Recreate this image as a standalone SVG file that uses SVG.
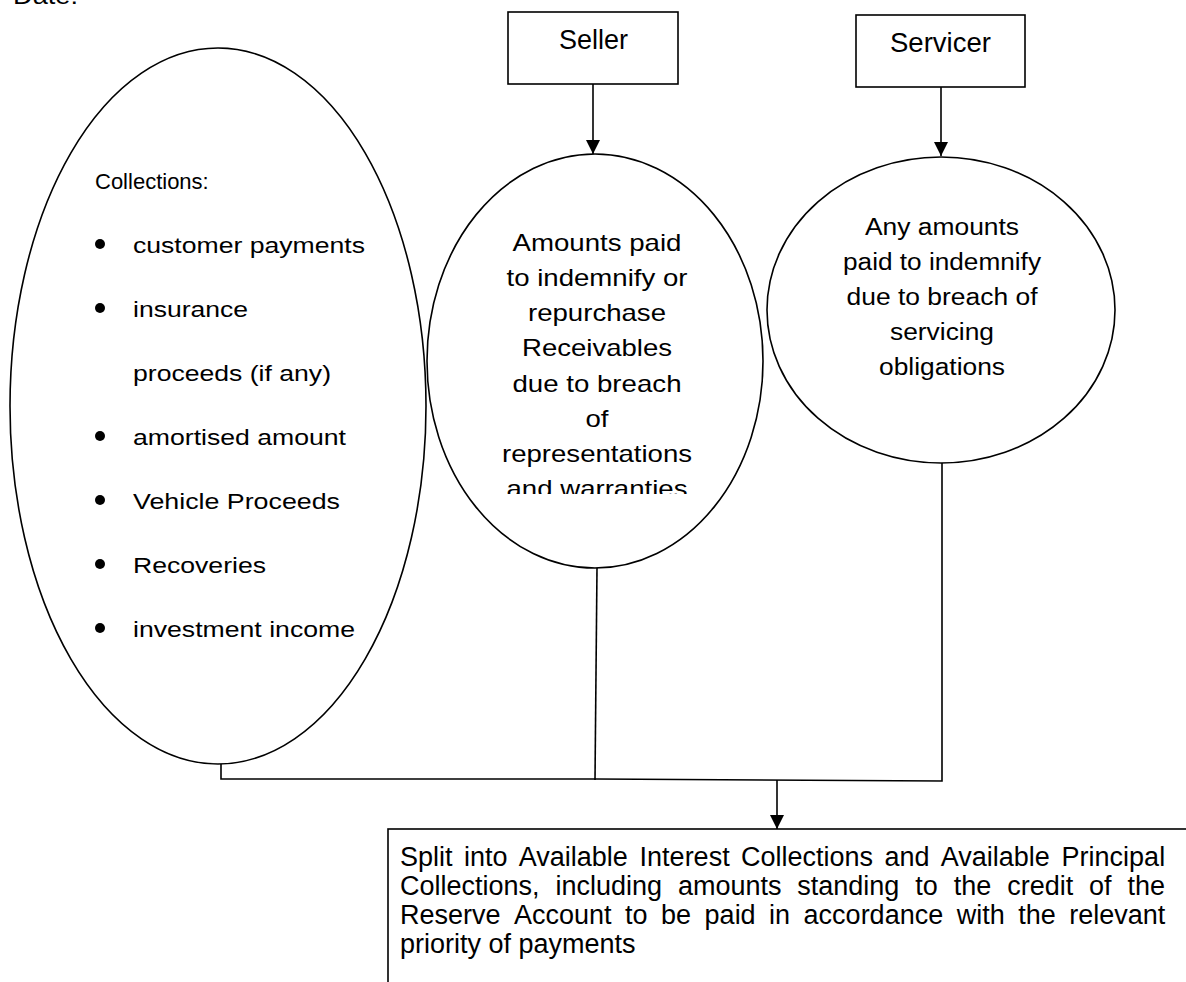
<svg xmlns="http://www.w3.org/2000/svg" width="1186" height="982" viewBox="0 0 1186 982">
<defs>
<marker id="ah" markerWidth="14" markerHeight="15" refX="14" refY="7" orient="auto" markerUnits="userSpaceOnUse">
<path d="M0,0 L14,7 L0,14 Z" fill="#000"/>
</marker>
<clipPath id="midclip"><rect x="420" y="150" width="350" height="344"/></clipPath>
</defs>
<style>
.t{font-family:"Liberation Sans",Arial,sans-serif;fill:#000}
.box{font-size:27.5px}
.li{font-size:22px}
.mid{font-size:24px}
.rt{font-size:23.5px}
.bt{font-size:27px}
.shape{fill:none;stroke:#000;stroke-width:1.6}
.line{fill:none;stroke:#000;stroke-width:1.6}
</style>
<rect width="1186" height="982" fill="#fff"/>
<text class="t mid" x="13" y="4" textLength="65" lengthAdjust="spacingAndGlyphs">Date:</text>

<g id="connectors">
<line class="line" x1="593" y1="84" x2="593" y2="154" marker-end="url(#ah)"/>
<line class="line" x1="941" y1="87" x2="941" y2="156" marker-end="url(#ah)"/>
<polyline class="line" points="221,764 221,779 596,779 942,781 942,463"/>
<line class="line" x1="597" y1="568" x2="595" y2="780"/>
<line class="line" x1="777" y1="780" x2="777" y2="829" marker-end="url(#ah)"/>
</g>

<g id="seller">
<rect class="shape" x="508" y="12" width="170" height="72"/>
<text class="t box" x="559" y="49" textLength="69" lengthAdjust="spacingAndGlyphs">Seller</text>
</g>

<g id="servicer">
<rect class="shape" x="856" y="15" width="169" height="72"/>
<text class="t box" x="890" y="52" textLength="101" lengthAdjust="spacingAndGlyphs">Servicer</text>
</g>

<g id="collections">
<ellipse class="shape" cx="218" cy="406" rx="208" ry="358"/>
<text class="t li" x="95" y="189">Collections:</text>
<g fill="#000">
<circle cx="100" cy="244" r="5"/>
<circle cx="100" cy="308" r="5"/>
<circle cx="100" cy="436" r="5"/>
<circle cx="100" cy="500" r="5"/>
<circle cx="100" cy="564" r="5"/>
<circle cx="100" cy="628" r="5"/>
</g>
<text class="t li" x="133" y="253" textLength="232" lengthAdjust="spacingAndGlyphs">customer payments</text>
<text class="t li" x="133" y="317" textLength="115" lengthAdjust="spacingAndGlyphs">insurance</text>
<text class="t li" x="133" y="381" textLength="198" lengthAdjust="spacingAndGlyphs">proceeds (if any)</text>
<text class="t li" x="133" y="445" textLength="213" lengthAdjust="spacingAndGlyphs">amortised amount</text>
<text class="t li" x="133" y="509" textLength="207" lengthAdjust="spacingAndGlyphs">Vehicle Proceeds</text>
<text class="t li" x="133" y="573" textLength="133" lengthAdjust="spacingAndGlyphs">Recoveries</text>
<text class="t li" x="133" y="637" textLength="222" lengthAdjust="spacingAndGlyphs">investment income</text>
</g>

<g id="seller-amounts">
<ellipse class="shape" cx="595" cy="361" rx="168" ry="207"/>
<g clip-path="url(#midclip)">
<text class="t mid" x="512.5" y="251" textLength="169" lengthAdjust="spacingAndGlyphs">Amounts paid</text>
<text class="t mid" x="506.5" y="286" textLength="181" lengthAdjust="spacingAndGlyphs">to indemnify or</text>
<text class="t mid" x="528" y="321" textLength="138" lengthAdjust="spacingAndGlyphs">repurchase</text>
<text class="t mid" x="522" y="356" textLength="150" lengthAdjust="spacingAndGlyphs">Receivables</text>
<text class="t mid" x="512.5" y="392" textLength="169" lengthAdjust="spacingAndGlyphs">due to breach</text>
<text class="t mid" x="585.5" y="427" textLength="23" lengthAdjust="spacingAndGlyphs">of</text>
<text class="t mid" x="502" y="462" textLength="190" lengthAdjust="spacingAndGlyphs">representations</text>
<text class="t mid" x="506.5" y="497" textLength="181" lengthAdjust="spacingAndGlyphs">and warranties</text>
</g>
</g>

<g id="servicer-amounts">
<ellipse class="shape" cx="941" cy="310" rx="174" ry="153"/>
<text class="t rt" x="865" y="235" textLength="154" lengthAdjust="spacingAndGlyphs">Any amounts</text>
<text class="t rt" x="843" y="270" textLength="198" lengthAdjust="spacingAndGlyphs">paid to indemnify</text>
<text class="t rt" x="846.5" y="305" textLength="191" lengthAdjust="spacingAndGlyphs">due to breach of</text>
<text class="t rt" x="890" y="340" textLength="104" lengthAdjust="spacingAndGlyphs">servicing</text>
<text class="t rt" x="879" y="375" textLength="126" lengthAdjust="spacingAndGlyphs">obligations</text>
</g>

<g id="split">
<rect class="shape" x="388" y="829" width="900" height="300"/>
<text class="t bt" y="866"><tspan x="400">Split</tspan><tspan x="463.9">into</tspan><tspan x="518.8">Available</tspan><tspan x="639.6">Interest</tspan><tspan x="741">Collections</tspan><tspan x="884.4">and</tspan><tspan x="940.7">Available</tspan><tspan x="1061.6">Principal</tspan></text>
<text class="t bt" y="895"><tspan x="400">Collections,</tspan><tspan x="555.4">including</tspan><tspan x="677.9">amounts</tspan><tspan x="797.3">standing</tspan><tspan x="915.3">to</tspan><tspan x="953.8">the</tspan><tspan x="1007.2">credit</tspan><tspan x="1089.1">of</tspan><tspan x="1127.5">the</tspan></text>
<text class="t bt" y="924"><tspan x="400">Reserve</tspan><tspan x="514">Account</tspan><tspan x="625.1">to</tspan><tspan x="661.1">be</tspan><tspan x="704.6">paid</tspan><tspan x="769.1">in</tspan><tspan x="803.6">accordance</tspan><tspan x="956.7">with</tspan><tspan x="1018.2">the</tspan><tspan x="1069.2">relevant</tspan></text>
<text class="t bt" x="400" y="953">priority of payments</text>
</g>
</svg>
